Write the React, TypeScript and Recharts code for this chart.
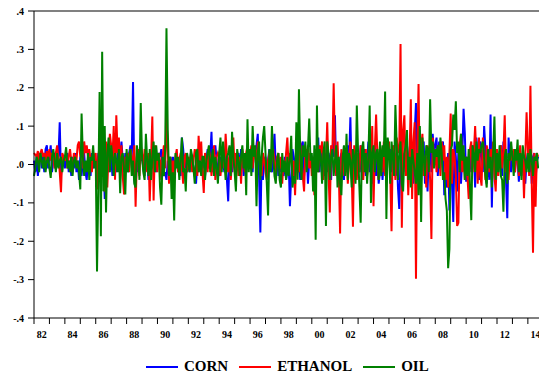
import { Line, LineChart, ReferenceLine, XAxis, YAxis } from "recharts"

// monthly returns, Jan 1982 onwards (one row per year)
const corn = [
  0.01, -0.02, 0.02, -0.03, 0.01, 0.03, -0.01, 0.02, -0.02, 0.04, 0.05, -0.01,
  0.02, 0.05, -0.02, 0.01, 0.03, -0.01, 0.04, 0.02, 0.11, -0.03, 0.01, 0.02,
  -0.01, 0.02, 0.03, -0.02, 0.01, -0.03, 0.02, -0.01, 0.03, -0.02, 0.01, -0.04,
  0.02, -0.03, 0.01, 0.03, -0.02, -0.04, 0.01, 0.02, -0.03, 0.03, -0.01, 0.02,
  0.01, -0.02, 0.03, -0.01, 0.02, -0.03, 0.01, -0.09, 0.04, 0.05, -0.02, 0.03,
  0.02, -0.03, 0.04, 0.01, -0.02, 0.03, -0.01, 0.02, 0.06, 0.01, -0.02, 0.03,
  0.01, -0.02, 0.03, 0.05, 0.02, 0.215, -0.04, -0.06, 0.01, -0.02, 0.03, 0.01,
  0.02, -0.01, -0.03, 0.02, 0.01, -0.04, -0.02, 0.03, -0.01, 0.02, 0.01, -0.02,
  0.01, 0.03, 0.02, 0.04, -0.01, -0.03, -0.02, -0.04, 0.01, -0.03, 0.02, -0.01,
  0.02, -0.01, 0.01, 0.03, -0.02, 0.01, -0.03, 0.07, 0.04, -0.01, 0.02, -0.02,
  0.01, -0.02, 0.03, 0.02, -0.01, -0.03, -0.05, 0.01, -0.02, 0.03, 0.02, -0.01,
  0.02, -0.03, 0.01, 0.04, -0.01, 0.02, 0.085, -0.02, 0.03, 0.05, 0.01, -0.02,
  -0.03, 0.02, -0.01, 0.01, -0.02, 0.03, -0.04, -0.096, 0.02, 0.01, -0.02, 0.03,
  0.02, -0.01, 0.01, 0.03, -0.02, 0.04, 0.02, -0.03, 0.01, -0.02, 0.03, 0.02,
  0.03, 0.01, -0.02, 0.04, 0.02, 0.05, 0.08, -0.03, -0.177, 0.02, -0.04, 0.01,
  0.02, -0.03, 0.01, 0.04, -0.01, -0.02, 0.03, 0.08, -0.01, 0.02, -0.03, 0.01,
  -0.02, 0.01, -0.03, 0.02, -0.04, -0.02, 0.01, -0.109, -0.03, 0.04, 0.02, -0.01,
  0.03, -0.02, 0.01, -0.04, 0.05, 0.06, -0.03, 0.02, 0.04, -0.05, 0.01, 0.03,
  0.02, -0.03, 0.01, -0.045, 0.03, 0.07, -0.02, 0.04, -0.01, 0.02, -0.03, 0.03,
  -0.02, 0.03, 0.01, -0.04, 0.05, 0.02, 0.128, -0.03, 0.02, -0.05, 0.01, 0.03,
  0.02, -0.04, 0.03, -0.02, 0.05, 0.01, 0.123, -0.03, -0.07, 0.04, 0.02, -0.01,
  0.03, -0.02, 0.05, -0.04, 0.02, 0.04, -0.03, 0.01, 0.06, -0.02, 0.03, -0.05,
  0.04, 0.05, -0.03, 0.02, -0.05, -0.02, 0.03, -0.04, 0.02, 0.06, -0.01, 0.03,
  0.02, 0.04, -0.02, 0.01, 0.05, -0.03, 0.03, -0.06, -0.116, 0.02, 0.04, -0.01,
  0.03, -0.02, 0.05, 0.02, -0.04, 0.06, 0.01, -0.05, 0.08, 0.16, -0.03, 0.07,
  0.09, -0.04, 0.03, 0.06, -0.05, 0.02, -0.07, 0.04, 0.05, -0.02, 0.08, 0.03,
  0.05, 0.07, -0.03, 0.06, 0.02, 0.04, 0.06, -0.08, -0.04, -0.06, 0.03, -0.12,
  0.04, -0.05, -0.15, 0.06, 0.02, -0.07, 0.04, 0.03, -0.05, 0.02, 0.145, 0.08,
  -0.045, 0.02, -0.03, 0.04, -0.02, 0.05, 0.03, -0.06, 0.07, 0.02, -0.04, 0.06,
  0.03, -0.02, 0.1, 0.04, -0.05, 0.02, -0.04, 0.13, -0.112, 0.05, 0.02, -0.03,
  0.04, -0.02, 0.03, 0.05, -0.03, 0.06, 0.02, -0.04, -0.14, 0.07, 0.01, -0.02,
  0.03, 0.01, -0.02, 0.04, 0.01, -0.045, 0.02, -0.03, 0.03, 0.02, -0.05, 0.01,
  0.03, -0.02, 0.04, -0.05, 0.02, 0.03, -0.04, 0.01, 0.02,
]

const ethanol = [
  0.03, 0.025, 0.02, 0.035, 0.01, 0.03, 0.04, 0.02, 0.03, 0.01, 0.035, 0.02,
  0.04, 0.01, 0.03, 0.02, -0.01, 0.03, 0.05, 0.02, -0.02, -0.072, 0.03, 0.02,
  0.01, 0.03, -0.01, 0.02, 0.04, 0.01, -0.02, 0.03, 0.02, 0.01, 0.05, 0.06,
  0.02, 0.04, -0.01, 0.06, 0.03, 0.05, 0.02, 0.04, 0.01, -0.02, 0.03, 0.02,
  0.03, -0.065, 0.02, 0.05, -0.03, 0.04, 0.01, -0.07, 0.06, -0.06, 0.03, 0.08,
  0.05, 0.02, 0.1, -0.04, 0.128, 0.03, 0.07, -0.02, 0.05, -0.03, -0.078, 0.02,
  0.01, 0.03, -0.02, 0.04, 0.02, -0.01, 0.05, -0.11, 0.02, 0.04, -0.03, 0.05,
  0.03, -0.01, 0.04, 0.02, -0.02, 0.03, -0.096, 0.01, 0.125, -0.094, 0.05, 0.02,
  -0.02, 0.03, 0.01, -0.04, 0.02, 0.05, -0.01, 0.13, 0.04, -0.05, 0.02, -0.03,
  0.01, -0.03, 0.02, 0.04, -0.02, 0.01, 0.03, -0.01, -0.05, 0.02, 0.03, -0.02,
  0.02, -0.01, 0.03, -0.02, 0.01, 0.04, 0.02, -0.03, 0.075, 0.01, 0.06, -0.02,
  -0.074, 0.03, 0.01, -0.02, 0.04, 0.02, -0.03, 0.01, 0.05, -0.04, 0.02, 0.03,
  0.02, -0.03, 0.01, 0.04, -0.01, 0.08, 0.02, -0.02, 0.03, -0.04, 0.01, 0.07,
  -0.02, 0.03, 0.01, -0.03, 0.02, -0.05, 0.04, 0.01, -0.02, 0.03, 0.05, -0.01,
  0.02, 0.05, -0.01, 0.03, 0.04, -0.02, 0.06, 0.01, 0.02, -0.03, 0.03, 0.01,
  -0.02, -0.04, 0.01, 0.03, -0.01, 0.02, 0.04, 0.01, -0.03, 0.02, 0.03, -0.01,
  0.02, -0.05, 0.01, -0.02, 0.03, 0.07, -0.01, 0.03, 0.02, -0.03, 0.01, -0.08,
  0.02, 0.03, -0.02, 0.06, 0.01, -0.03, -0.07, 0.04, 0.02, 0.05, -0.01, 0.03,
  -0.03, 0.02, -0.08, 0.04, 0.01, -0.02, 0.05, 0.03, 0.06, -0.04, 0.02, 0.01,
  0.11, -0.02, -0.125, 0.05, 0.03, 0.212, 0.04, -0.03, 0.06, -0.02, -0.18, 0.04,
  -0.03, 0.02, 0.04, 0.03, -0.05, 0.01, 0.06, -0.02, -0.162, 0.05, 0.02, -0.04,
  0.03, -0.02, 0.05, 0.01, -0.04, 0.02, 0.04, -0.03, 0.01, 0.06, -0.02, 0.1,
  -0.109, 0.04, 0.13, 0.02, -0.04, 0.05, 0.03, -0.02, 0.06, -0.03, 0.01, 0.04,
  0.06, -0.03, -0.174, 0.05, 0.02, -0.04, 0.07, 0.03, 0.04, 0.314, -0.165, 0.09,
  0.128, -0.03, 0.05, -0.08, 0.02, 0.17, -0.09, 0.06, 0.11, -0.298, 0.04, 0.21,
  -0.05, 0.04, 0.08, -0.03, 0.02, -0.06, 0.05, 0.03, -0.04, -0.194, 0.07, 0.02,
  0.03, -0.02, 0.05, 0.04, -0.03, 0.06, 0.01, 0.05, -0.04, 0.02, -0.06, 0.03,
  0.133, -0.05, 0.04, 0.02, -0.03, -0.16, -0.152, 0.05, 0.08, -0.02, 0.03, -0.04,
  0.02, -0.03, -0.09, 0.04, 0.06, -0.02, 0.03, 0.1, 0.02, -0.05, 0.07, -0.03,
  -0.055, 0.07, 0.02, -0.04, 0.05, 0.03, -0.02, 0.04, 0.01, 0.06, -0.03, -0.07,
  0.04, -0.03, 0.02, 0.05, -0.01, 0.03, 0.128, -0.02, 0.01, -0.04, 0.03, 0.02,
  0.01, 0.04, -0.02, 0.03, 0.02, -0.03, 0.05, -0.02, 0.03, -0.088, 0.02, 0.136,
  0.04, -0.03, 0.205, -0.05, -0.23, 0.03, -0.11, 0.03, 0.02,
]

const oil = [
  -0.03, -0.01, 0.02, 0.01, -0.02, 0.03, 0.01, -0.01, 0.02, -0.02, 0.01, 0.02,
  -0.01, -0.035, 0.02, 0.04, 0.01, -0.02, 0.03, -0.01, 0.01, 0.02, -0.02, 0.01,
  0.02, 0.045, -0.01, 0.01, -0.02, 0.02, -0.03, 0.01, 0.02, -0.01, 0.01, -0.02,
  -0.065, 0.133, 0.02, -0.03, 0.01, -0.02, 0.03, -0.04, 0.02, 0.01, 0.05, -0.01,
  0.01, -0.279, -0.06, 0.189, -0.187, 0.294, -0.07, 0.1, -0.125, 0.03, 0.07, -0.02,
  0.05, 0.02, -0.03, 0.03, 0.01, -0.02, 0.04, -0.075, 0.02, 0.03, -0.01, -0.078,
  0.04, -0.02, 0.02, 0.04, -0.03, 0.01, -0.05, -0.06, 0.05, 0.02, -0.04, 0.16,
  0.02, -0.02, -0.04, 0.08, 0.01, -0.03, 0.04, -0.04, 0.02, 0.06, -0.02, 0.05,
  0.01, 0.03, -0.06, -0.105, 0.02, -0.03, 0.04, 0.355, 0.09, -0.03, 0.02, -0.09,
  -0.02, -0.146, 0.03, -0.01, 0.02, -0.04, 0.01, 0.07, -0.02, -0.01, -0.07, 0.03,
  0.01, -0.02, 0.04, 0.02, -0.01, -0.05, 0.03, 0.04, -0.02, 0.01, -0.03, 0.02,
  0.02, -0.04, 0.01, 0.03, 0.05, -0.02, 0.01, 0.04, -0.03, 0.02, -0.01, -0.05,
  0.03, 0.07, -0.02, 0.06, 0.01, -0.04, 0.02, 0.03, 0.05, -0.03, 0.085, 0.02,
  -0.02, -0.07, 0.04, 0.01, -0.03, 0.02, 0.05, -0.01, 0.03, -0.08, 0.118, -0.02,
  0.04, -0.03, 0.1, 0.02, 0.05, -0.109, 0.03, 0.06, -0.04, 0.02, 0.07, 0.1,
  0.03, -0.05, -0.133, 0.04, -0.02, 0.1, 0.02, -0.03, -0.05, 0.01, 0.03, -0.04,
  -0.06, 0.03, -0.02, 0.01, -0.04, 0.02, -0.03, 0.01, 0.075, -0.06, -0.03, -0.05,
  0.11, -0.04, 0.196, 0.03, -0.04, 0.05, 0.02, 0.06, -0.02, 0.04, 0.12, 0.01,
  0.03, -0.07, 0.05, -0.196, 0.154, -0.02, 0.04, 0.02, -0.05, 0.03, 0.06, -0.16,
  0.06, 0.03, -0.04, 0.02, 0.04, -0.03, 0.01, 0.05, -0.06, 0.02, -0.05, -0.08,
  0.02, 0.05, -0.03, 0.08, -0.04, 0.03, 0.01, -0.06, 0.04, 0.02, -0.05, 0.154,
  0.03, -0.06, -0.152, 0.04, 0.06, -0.02, 0.03, -0.05, 0.02, 0.154, -0.1, 0.03,
  0.05, -0.02, 0.03, 0.04, -0.04, 0.06, -0.03, 0.05, 0.02, 0.19, -0.142, 0.07,
  0.04, -0.05, 0.06, 0.02, -0.03, 0.155, 0.05, -0.04, 0.03, 0.06, -0.05, -0.07,
  0.03, 0.05, 0.09, -0.04, 0.02, -0.06, 0.04, 0.01, -0.02, -0.05, 0.03, -0.08,
  0.1, -0.15, 0.07, 0.02, -0.03, 0.05, 0.04, -0.02, 0.17, 0.03, 0.06, -0.01,
  0.04, 0.02, 0.05, -0.01, 0.07, 0.03, -0.04, -0.02, -0.09, -0.12, -0.27, -0.22,
  0.04, 0.05, 0.13, 0.09, 0.165, 0.03, 0.06, -0.02, 0.08, 0.01, 0.05, -0.04,
  0.02, -0.03, 0.04, -0.06, -0.145, 0.05, 0.03, -0.02, 0.06, 0.01, 0.04, 0.03,
  0.05, 0.06, 0.02, -0.03, -0.06, 0.04, -0.01, 0.02, -0.06, 0.03, 0.125, -0.04,
  0.03, -0.02, 0.05, -0.03, -0.04, -0.123, 0.02, 0.04, -0.05, 0.03, 0.01, 0.06,
  0.02, -0.03, 0.04, 0.01, 0.065, -0.02, 0.03, -0.04, 0.05, 0.02, 0.01, -0.02,
  0.03, -0.02, 0.04, 0.01, -0.03, 0.02, 0.01, 0.03, -0.01,
]

const firstYear = 1982
const lastYear = 2015
const yearTicks = Array.from({ length: lastYear - firstYear + 1 }, (_, k) => firstYear + k)
const yTicks = [-0.4, -0.3, -0.2, -0.1, 0, 0.1, 0.2, 0.3, 0.4]

const series = [
  { key: "corn", name: "CORN", color: "#0000ff" },
  { key: "ethanol", name: "ETHANOL", color: "#ff0000" },
  { key: "oil", name: "OIL", color: "#008000" },
]

const data = corn.map((c, i) => ({
  t: firstYear + i / 12,
  corn: c,
  ethanol: ethanol[i],
  oil: oil[i],
}))

const W = 560
const H = 381
const AXIS_W = 34
const PLOT_W = 509.3
const YEAR_PX = PLOT_W / (lastYear - firstYear)
const font = "'Liberation Serif', 'Times New Roman', serif"

function fmtY(v: number) {
  if (Math.abs(v) < 1e-9) return ".0"
  const d = Math.round(Math.abs(v) * 10)
  return (v < 0 ? "-." : ".") + d
}

function YearTick(props: any) {
  const { x, y, payload } = props
  const yr = payload.value as number
  if (yr % 2 !== 0 || yr >= lastYear) return <g />
  return (
    <text
      x={x + YEAR_PX / 2}
      y={y + 12}
      textAnchor="middle"
      fontFamily={font}
      fontWeight="bold"
      fontSize={10}
      fill="#000"
    >
      {String(yr % 100).padStart(2, "0")}
    </text>
  )
}

export default function App() {
  return (
    <div
      style={{
        position: "absolute",
        left: 0,
        top: 0,
        width: 539,
        height: 381,
        overflow: "hidden",
        background: "#fff",
      }}
    >
      <LineChart
        width={W}
        height={H}
        data={data}
        margin={{ top: 11, right: W - AXIS_W - PLOT_W, left: 0, bottom: 38 }}
      >
        <XAxis
          dataKey="t"
          type="number"
          domain={[firstYear, lastYear]}
          ticks={yearTicks}
          interval={0}
          height={25}
          tickSize={6}
          tickMargin={2}
          stroke="#000"
          tick={<YearTick />}
        />
        <YAxis
          type="number"
          domain={[-0.4, 0.4]}
          ticks={yTicks}
          interval={0}
          width={AXIS_W}
          tickSize={6}
          tickMargin={4}
          stroke="#000"
          tickFormatter={fmtY}
          tick={{ fontFamily: font, fontWeight: "bold", fontSize: 10, fill: "#000" }}
        />
        <ReferenceLine y={0.4} stroke="#808080" strokeWidth={2} />
        {series.map((s) => (
          <Line
            key={s.key}
            dataKey={s.key}
            name={s.name}
            type="linear"
            stroke={s.color}
            strokeWidth={2}
            dot={false}
            isAnimationActive={false}
          />
        ))}
      </LineChart>
      <div
        style={{
          position: "absolute",
          left: 146,
          top: 358,
          display: "flex",
          alignItems: "center",
          fontFamily: font,
          fontWeight: "bold",
          fontSize: 15,
          color: "#000",
          whiteSpace: "nowrap",
        }}
      >
        {series.map((s) => (
          <div key={s.key} style={{ display: "flex", alignItems: "center", marginRight: 11 }}>
            <div style={{ width: 32, height: 2, background: s.color, marginRight: 6 }} />
            <span>{s.name}</span>
          </div>
        ))}
      </div>
    </div>
  )
}
